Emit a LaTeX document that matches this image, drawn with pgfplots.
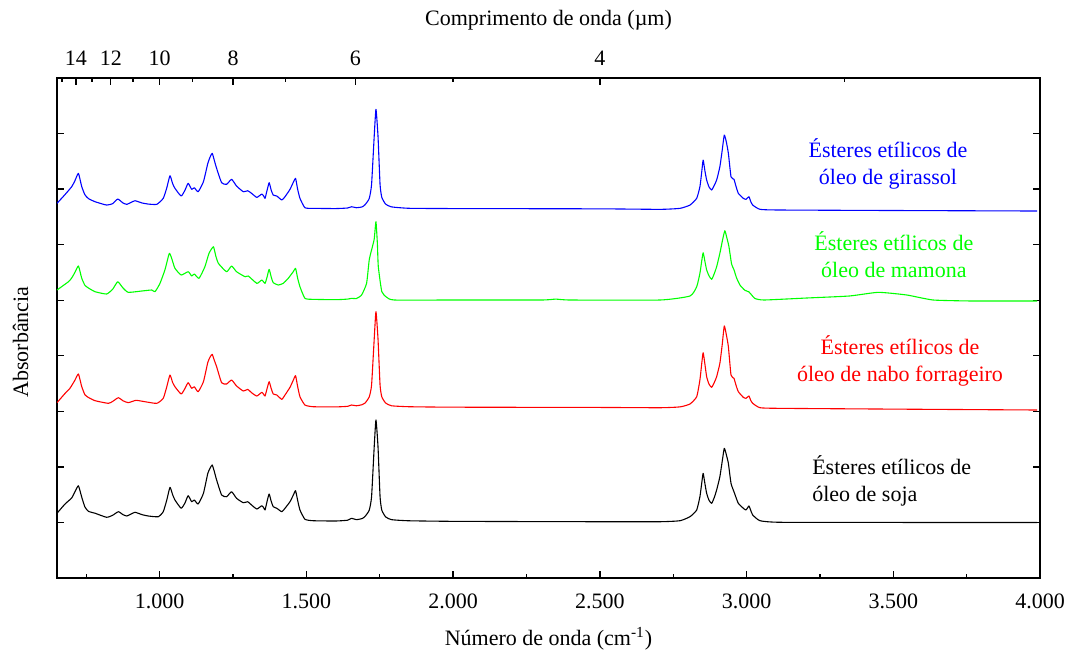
\documentclass[border=0pt]{standalone}
\usepackage{fontspec}
\setmainfont{Liberation Serif}
\usepackage{pgfplots}
\pgfplotsset{compat=1.18}

\definecolor{sblue}{RGB}{0,0,255}
\definecolor{sgreen}{RGB}{0,255,0}
\definecolor{sred}{RGB}{255,0,0}

\begin{document}
\begin{tikzpicture}[font=\fontsize{11bp}{13.5bp}\selectfont]
% FTIR spectra of the ethyl esters, stacked with vertical offsets
\begin{axis}[
  scale only axis, width=491.5bp, height=250bp,
  xmin=650, xmax=4000, ymin=0, ymax=9,
  axis line style={line width=0.9pt},
  tick align=inside,
  xtick pos=left,
  xtick={1000,1500,2000,2500,3000,3500,4000},
  xticklabels={1.000,1.500,2.000,2.500,3.000,3.500,4.000},
  minor xtick={750,1250,1750,2250,2750,3250,3750},
  ytick={1,2,3,4,5,6,7,8},
  yticklabels={},
  major tick length=3.5bp, minor tick length=2bp,
  every tick/.style={black, line width=0.7pt},
  xticklabel style={anchor=base, yshift=-15bp},
  xlabel={Número de onda (cm\textsuperscript{-1})},
  xlabel style={at={(axis description cs:0.5,-0.134)}, anchor=base},
  ylabel={Absorbância},
  ylabel style={at={(axis description cs:-0.0295,0.472)}, anchor=base},
  every axis plot/.append style={line width=0.55pt, line join=round, smooth, tension=0.3},
]
% óleo de soja
\addplot[black] coordinates {
(650,1.165) (677,1.33) (700,1.44) (711,1.55) (723,1.66) (734,1.46) (745,1.28)
(757,1.20) (780,1.165) (819,1.093) (840,1.13) (859,1.193) (875,1.14) (888,1.116)
(902,1.15) (916,1.183) (940,1.14) (961,1.116) (995,1.103) (1012,1.193) (1024,1.40)
(1035,1.632) (1044,1.50) (1052,1.404) (1073,1.255) (1086,1.35) (1097,1.481)
(1109,1.373) (1118,1.404) (1131,1.332) (1149,1.524) (1164,1.884) (1172,1.98)
(1179,2.034) (1186,1.92) (1194,1.764) (1211,1.494) (1228,1.463) (1245,1.553)
(1262,1.434) (1285,1.355) (1300,1.373) (1313,1.314) (1331,1.242) (1348,1.301)
(1355,1.26) (1359,1.224) (1366,1.38) (1373,1.512) (1380,1.38) (1387,1.283)
(1399,1.255) (1416,1.193) (1427,1.255) (1444,1.373) (1456,1.50) (1463,1.571)
(1470,1.40) (1478,1.224) (1495,1.057) (1523,1.031) (1600,1.026) (1640,1.04)
(1654,1.075) (1670,1.05) (1690,1.07) (1700,1.11) (1714,1.22) (1722,1.46)
(1731,2.36) (1737,2.844) (1744,2.36) (1751,1.46) (1757,1.22) (1770,1.10)
(1790,1.05) (1850,1.03) (2000,1.02) (2300,1.015) (2500,1.013) (2705,1.013)
(2773,1.031) (2807,1.103) (2830,1.224) (2841,1.463) (2847,1.70) (2852,1.884)
(2858,1.70) (2864,1.524) (2872,1.40) (2881,1.344) (2890,1.45) (2898,1.584)
(2909,1.823) (2917,2.10) (2924,2.334) (2931,2.22) (2938,2.064) (2947,1.704)
(2957,1.553) (2964,1.45) (2972,1.344) (2989,1.255) (2998,1.224) (3008,1.296)
(3014,1.22) (3021,1.134) (3046,1.031) (3114,1.003) (3500,1.0) (3990,0.999)
};
% óleo de nabo forrageiro
\addplot[sred] coordinates {
(650,3.156) (677,3.32) (694,3.414) (711,3.56) (723,3.672) (734,3.45) (745,3.30)
(757,3.25) (780,3.191) (825,3.144) (840,3.18) (859,3.245) (875,3.19) (893,3.156)
(919,3.198) (950,3.173) (990,3.144) (1012,3.234) (1024,3.44) (1035,3.654)
(1044,3.52) (1052,3.443) (1073,3.312) (1086,3.41) (1097,3.515) (1109,3.414)
(1118,3.443) (1131,3.353) (1149,3.533) (1164,3.882) (1172,3.98) (1179,4.026)
(1186,3.92) (1194,3.803) (1211,3.515) (1228,3.492) (1245,3.564) (1262,3.456)
(1285,3.366) (1300,3.396) (1313,3.335) (1331,3.276) (1348,3.342) (1355,3.30)
(1359,3.276) (1366,3.41) (1373,3.533) (1380,3.41) (1387,3.312) (1399,3.294)
(1416,3.216) (1427,3.294) (1444,3.432) (1456,3.57) (1463,3.641) (1470,3.45)
(1478,3.263) (1495,3.114) (1523,3.083) (1600,3.08) (1640,3.09) (1654,3.114)
(1670,3.10) (1690,3.12) (1700,3.15) (1714,3.26) (1722,3.47) (1731,4.30)
(1737,4.793) (1744,4.30) (1751,3.47) (1757,3.26) (1770,3.15) (1790,3.10)
(1850,3.083) (2000,3.075) (2500,3.07) (2705,3.065) (2773,3.08) (2807,3.132)
(2830,3.263) (2841,3.564) (2847,3.85) (2852,4.055) (2858,3.85) (2864,3.623)
(2872,3.49) (2881,3.432) (2890,3.52) (2898,3.623) (2909,3.864) (2917,4.20)
(2924,4.536) (2931,4.38) (2938,4.163) (2947,3.654) (2957,3.594) (2964,3.47)
(2972,3.353) (2989,3.252) (2998,3.234) (3008,3.276) (3014,3.20) (3021,3.144)
(3046,3.065) (3114,3.054) (3500,3.04) (3990,3.024)
};
% óleo de mamona
\addplot[sgreen] coordinates {
(650,5.184) (689,5.333) (700,5.40) (711,5.50) (723,5.616) (734,5.40) (745,5.27)
(757,5.22) (780,5.153) (819,5.112) (840,5.20) (857,5.333) (875,5.22) (893,5.142)
(939,5.166) (973,5.184) (984,5.153) (1001,5.304) (1018,5.55) (1033,5.844)
(1044,5.70) (1052,5.574) (1073,5.454) (1097,5.513) (1109,5.436) (1118,5.472)
(1134,5.394) (1154,5.603) (1168,5.844) (1183,5.963) (1191,5.80) (1200,5.664)
(1228,5.513) (1245,5.616) (1262,5.513) (1291,5.423) (1302,5.436) (1331,5.304)
(1348,5.364) (1359,5.304) (1366,5.42) (1373,5.556) (1380,5.42) (1387,5.315)
(1404,5.274) (1421,5.304) (1438,5.394) (1456,5.52) (1463,5.574) (1470,5.40)
(1478,5.243) (1495,5.034) (1523,5.016) (1600,5.010) (1640,5.02) (1654,5.034)
(1670,5.03) (1688,5.094) (1705,5.304) (1714,5.724) (1722,5.904) (1731,6.10)
(1737,6.413) (1742,6.00) (1745,5.603) (1757,5.153) (1774,5.052) (1800,5.004)
(2000,5.004) (2300,5.004) (2350,5.02) (2400,5.004) (2705,5.004) (2807,5.076)
(2830,5.243) (2841,5.484) (2847,5.70) (2852,5.855) (2858,5.70) (2864,5.544)
(2872,5.44) (2881,5.376) (2890,5.48) (2898,5.603) (2909,5.844) (2918,6.08)
(2926,6.251) (2933,6.12) (2940,5.963) (2949,5.65) (2957,5.55) (2966,5.40)
(2978,5.27) (2994,5.18) (3008,5.15) (3018,5.09) (3029,5.03) (3060,5.004)
(3205,5.04) (3350,5.076) (3449,5.142) (3546,5.094) (3636,5.004) (3772,4.986)
(3990,4.986)
};
% óleo de girassol
\addplot[sblue] coordinates {
(650,6.744) (677,6.90) (700,7.043) (711,7.15) (723,7.284) (734,7.05) (745,6.90)
(757,6.83) (780,6.773) (819,6.713) (840,6.74) (857,6.822) (875,6.75) (888,6.726)
(902,6.76) (916,6.791) (940,6.75) (961,6.731) (990,6.726) (1012,6.834) (1024,7.02)
(1035,7.241) (1044,7.10) (1052,7.014) (1073,6.876) (1086,6.98) (1097,7.104)
(1109,6.996) (1118,7.025) (1131,6.953) (1149,7.133) (1164,7.464) (1172,7.58)
(1179,7.644) (1186,7.52) (1194,7.374) (1211,7.115) (1228,7.086) (1245,7.176)
(1262,7.055) (1285,6.953) (1300,6.971) (1313,6.924) (1331,6.852) (1348,6.911)
(1355,6.87) (1359,6.834) (1366,6.98) (1373,7.115) (1380,6.98) (1387,6.893)
(1399,6.876) (1416,6.804) (1427,6.863) (1444,6.996) (1456,7.13) (1463,7.194)
(1470,7.00) (1478,6.834) (1495,6.665) (1523,6.654) (1600,6.650) (1640,6.66)
(1654,6.683) (1670,6.665) (1690,6.68) (1700,6.72) (1714,6.83) (1722,7.08)
(1731,7.95) (1737,8.436) (1744,7.95) (1751,7.08) (1757,6.85) (1770,6.73)
(1790,6.68) (1850,6.655) (2000,6.65) (2500,6.645) (2705,6.636) (2773,6.654)
(2807,6.713) (2830,6.834) (2841,7.043) (2847,7.30) (2852,7.523) (2858,7.33)
(2864,7.163) (2872,7.04) (2881,6.984) (2890,7.07) (2898,7.163) (2909,7.403)
(2917,7.70) (2924,7.973) (2931,7.85) (2938,7.644) (2947,7.223) (2957,7.176)
(2964,7.05) (2972,6.924) (2989,6.834) (2998,6.816) (3008,6.863) (3014,6.78)
(3021,6.713) (3046,6.636) (3114,6.624) (3500,6.615) (3990,6.606)
};
% series names
\node[sblue, align=center] at (axis cs:3482,7.46) {Ésteres etílicos de\\óleo de girassol};
\node[sgreen, align=center] at (axis cs:3502,5.82) {Ésteres etílicos de\\óleo de mamona};
\node[sred, align=center] at (axis cs:3523,3.90) {Ésteres etílicos de\\óleo de nabo forrageiro};
\node[black, align=left, anchor=west] at (axis cs:3200,1.755) {Ésteres etílicos de\\óleo de soja};
\end{axis}
% wavelength scale on top
\begin{axis}[
  scale only axis, width=491.5bp, height=250bp,
  xmin=650, xmax=4000, ymin=0, ymax=9,
  axis x line*=top, axis y line=none,
  axis line style={line width=0.9pt},
  tick align=inside,
  xtick={714.2857,833.3333,1000,1250,1666.6667,2500},
  xticklabels={14,12,10,8,6,4},
  minor xtick={666.6667,769.2308,909.0909,1111.1111,1428.5714,2000,3333.3333},
  major tick length=3.5bp, minor tick length=2bp,
  every tick/.style={black, line width=0.7pt},
  xticklabel style={anchor=base, yshift=6.5bp},
  xlabel={Comprimento de onda (µm)},
  xlabel style={at={(axis description cs:0.5,1.106)}, anchor=base},
]
\end{axis}
\pgfresetboundingbox
\path[use as bounding box] (-28.5bp,-39bp) rectangle (507.5bp,289bp);
\end{tikzpicture}
\end{document}
